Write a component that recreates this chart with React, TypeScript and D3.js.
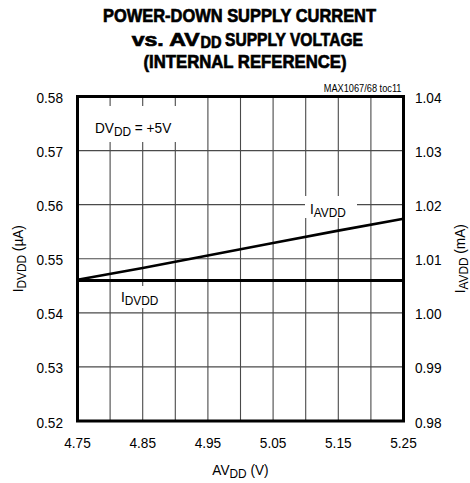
import React from "react";
import * as d3 from "d3";

const voltages = [4.75, 4.85, 4.95, 5.05, 5.15, 5.25];
const iDvdd = [0.546, 0.546, 0.546, 0.546, 0.546, 0.546];
const iAvdd = [1.0061, 1.0083, 1.0106, 1.0129, 1.0152, 1.0174];

const xTicks = [4.75, 4.85, 4.95, 5.05, 5.15, 5.25];
const xGrid = [4.75, 4.8, 4.85, 4.9, 4.95, 5.0, 5.05, 5.1, 5.15, 5.2, 5.25];
const yLeftTicks = [0.52, 0.53, 0.54, 0.55, 0.56, 0.57, 0.58];
const yRightTicks = [0.98, 0.99, 1.0, 1.01, 1.02, 1.03, 1.04];

const W = 470;
const H = 483;
const m = { left: 77.5, right: 403.5, top: 96.5, bottom: 421 };
const FONT = "'Liberation Sans', Arial, sans-serif";
const SX = 0.88;

function T({
  x,
  y,
  rot = 0,
  anchor = "start",
  size = 15.5,
  weight = "normal",
  sx = SX,
  children,
}: any) {
  return (
    <text
      transform={`translate(${x},${y}) rotate(${rot}) scale(${sx},1)`}
      textAnchor={anchor}
      fontSize={size}
      fontWeight={weight}
      fill="#000"
    >
      {children}
    </text>
  );
}

export default function App() {
  const x = d3.scaleLinear().domain([4.75, 5.25]).range([m.left, m.right]);
  const yL = d3.scaleLinear().domain([0.52, 0.58]).range([m.bottom, m.top]);
  const yR = d3.scaleLinear().domain([0.98, 1.04]).range([m.bottom, m.top]);

  const lineL = d3.line<number>().x((_, i) => x(voltages[i])).y((d) => yL(d));
  const lineR = d3.line<number>().x((_, i) => x(voltages[i])).y((d) => yR(d));

  const grid = "#4a4a4a";
  const sub = 13.5;

  return (
    <svg
      width={W}
      height={H}
      style={{ position: "absolute", left: 0, top: 0, background: "#fff" }}
      fontFamily={FONT}
    >
      <rect x={0} y={0} width={W} height={H} fill="#fff" />
      {/* Title */}
      <g
        fontWeight="bold"
        fontSize={19}
        fill="#000"
        stroke="#000"
        strokeWidth={0.7}
      >
        <text x={103} y={21.8} textLength={273} lengthAdjust="spacingAndGlyphs">
          POWER-DOWN SUPPLY CURRENT
        </text>
        <text x={131.7} y={45.8} textLength={68} lengthAdjust="spacingAndGlyphs">
          vs. AV
        </text>
        <text
          x={200.5}
          y={48.3}
          fontSize={16}
          textLength={21}
          lengthAdjust="spacingAndGlyphs"
        >
          DD
        </text>
        <text x={225} y={45.8} textLength={138} lengthAdjust="spacingAndGlyphs">
          SUPPLY VOLTAGE
        </text>
        <text x={143.5} y={68} textLength={203} lengthAdjust="spacingAndGlyphs">
          (INTERNAL REFERENCE)
        </text>
      </g>
      <T x={401.5} y={92} size={10.5} anchor="end">
        MAX1067/68 toc11
      </T>

      {/* Grid */}
      <g stroke={grid} strokeWidth={1.1}>
        {xGrid.map((v) => (
          <line key={"gx" + v} x1={x(v)} x2={x(v)} y1={m.top} y2={m.bottom} />
        ))}
        {yLeftTicks.map((v) => (
          <line key={"gy" + v} x1={m.left} x2={m.right} y1={yL(v)} y2={yL(v)} />
        ))}
      </g>

      {/* Label boxes masking grid */}
      <rect x={90} y={106} width={92} height={36} fill="#fff" />
      <rect x={305} y={196} width={52} height={22} fill="#fff" />
      <rect x={117} y={286} width={50} height={22} fill="#fff" />

      {/* Data lines */}
      <path d={lineL(iDvdd) || ""} fill="none" stroke="#000" strokeWidth={3} />
      <path d={lineR(iAvdd) || ""} fill="none" stroke="#000" strokeWidth={2.6} />

      {/* Frame */}
      <rect
        x={m.left}
        y={m.top}
        width={m.right - m.left}
        height={m.bottom - m.top}
        fill="none"
        stroke="#000"
        strokeWidth={3}
      />

      {/* Annotations */}
      <T x={95} y={133}>
        DV<tspan fontSize={sub} dy={3}>DD</tspan>
        <tspan dy={-3}> = +5V</tspan>
      </T>
      <T x={310} y={214}>
        I<tspan fontSize={sub} dy={3}>AVDD</tspan>
      </T>
      <T x={121} y={302}>
        I<tspan fontSize={sub} dy={3}>DVDD</tspan>
      </T>

      {/* Left ticks */}
      {yLeftTicks.map((v) => (
        <T key={"l" + v} x={63} y={yL(v) + 6.5} anchor="end">
          {v.toFixed(2)}
        </T>
      ))}
      {/* Right ticks */}
      {yRightTicks.map((v) => (
        <T key={"r" + v} x={415} y={yR(v) + 6.5}>
          {v.toFixed(2)}
        </T>
      ))}
      {/* X ticks */}
      {xTicks.map((v) => (
        <T key={"x" + v} x={x(v)} y={448} anchor="middle">
          {v.toFixed(2)}
        </T>
      ))}

      {/* Axis titles */}
      <T x={240.5} y={475} anchor="middle">
        AV<tspan fontSize={sub} dy={3}>DD</tspan>
        <tspan dy={-3}> (V)</tspan>
      </T>
      <T x={23} y={(m.top + m.bottom) / 2} rot={-90} anchor="middle">
        I<tspan fontSize={sub} dy={3}>DVDD</tspan>
        <tspan dy={-3}> (µA)</tspan>
      </T>
      <T x={465} y={(m.top + m.bottom) / 2} rot={-90} anchor="middle">
        I<tspan fontSize={sub} dy={3}>AVDD</tspan>
        <tspan dy={-3}> (mA)</tspan>
      </T>
    </svg>
  );
}
